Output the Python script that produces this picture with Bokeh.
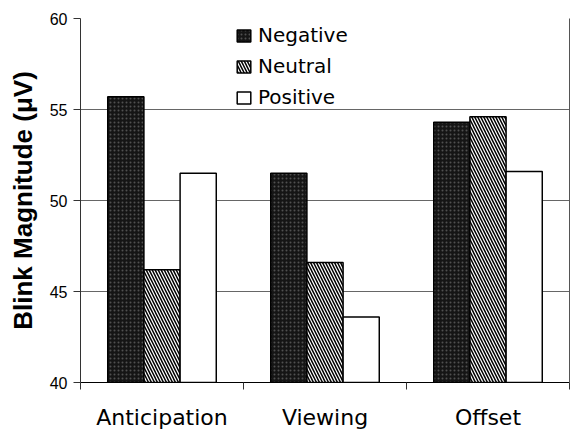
from bokeh.plotting import figure
from bokeh.models import (Range1d, FixedTicker, LinearAxis, Legend, LegendItem,
                          ColumnDataSource)
from bokeh.embed import file_html
from bokeh.resources import INLINE

categories = ["Anticipation", "Viewing", "Offset"]
series = ["Negative", "Neutral", "Positive"]
negative = [55.7, 51.5, 54.3]
neutral = [46.2, 46.6, 54.6]
positive = [51.5, 43.6, 51.6]
y_ticks = [40, 45, 50, 55, 60]

values = {"Negative": negative, "Neutral": neutral, "Positive": positive}

p = figure(width=572, height=432, output_backend="svg", toolbar_location=None,
           x_range=Range1d(0, 3), y_range=Range1d(40, 60),
           min_border_left=80, min_border_right=3, min_border_top=18,
           min_border_bottom=48)
p.outline_line_color = None
p.background_fill_color = "white"
p.border_fill_color = "white"

bar_w = 0.222
offsets = [-bar_w, 0.0, bar_w]
styles = {
    "Negative": dict(fill_color="#151515", hatch_pattern="dot", hatch_color="#8c8c8c",
                     hatch_scale=4, hatch_weight=1, hatch_alpha=0.5),
    "Neutral": dict(fill_color="white", hatch_pattern="left_diagonal_line",
                    hatch_color="black", hatch_scale=6, hatch_weight=1.5),
    "Positive": dict(fill_color="white"),
}

items = []
for s, off in zip(series, offsets):
    src = ColumnDataSource(dict(
        x=[i + 0.5 + off for i in range(len(categories))],
        top=values[s],
        cat=categories,
    ))
    r = p.vbar(x="x", top="top", bottom=40, width=bar_w, source=src,
               line_color="black", line_width=1.5, **styles[s])
    items.append(LegendItem(label=s, renderers=[r]))

# y axis
yax = p.yaxis[0]
yax.ticker = FixedTicker(ticks=y_ticks, minor_ticks=[])
yax.axis_label = "Blink Magnitude (\u03bcV)"
yax.axis_label_text_font = "Liberation Sans"
yax.axis_label_text_font_style = "bold"
yax.axis_label_text_font_size = "26px"
yax.axis_label_text_color = "black"
yax.axis_label_standoff = 9
yax.major_label_text_font = "Liberation Sans"
yax.major_label_text_font_size = "16px"
yax.major_label_text_color = "black"
yax.major_label_standoff = 6
yax.major_tick_out = 7
yax.major_tick_in = 0
yax.minor_tick_out = 0
yax.minor_tick_in = 0
yax.axis_line_color = "#333333"
yax.major_tick_line_color = "#333333"

# x axis: labels at category centres, ticks at boundaries
xax = p.xaxis[0]
xax.ticker = FixedTicker(ticks=[0.5, 1.5, 2.5], minor_ticks=[0, 1, 2, 3])
xax.major_label_overrides = {0.5: categories[0], 1.5: categories[1], 2.5: categories[2]}
xax.major_label_text_font = "DejaVu Sans"
xax.major_label_text_font_size = "22px"
xax.major_label_text_color = "black"
xax.major_label_standoff = 15
xax.major_tick_out = 0
xax.major_tick_in = 0
xax.minor_tick_out = 7
xax.minor_tick_in = 0
xax.axis_line_color = "black"
xax.minor_tick_line_color = "#333333"

# right frame line
rax = LinearAxis(ticker=FixedTicker(ticks=[], minor_ticks=[]),
                 major_label_text_font_size="0px", major_tick_out=0,
                 major_tick_in=0, minor_tick_out=0, minor_tick_in=0,
                 axis_line_color="#555555")
p.add_layout(rax, "right")

p.xgrid.grid_line_color = None
p.ygrid.ticker = FixedTicker(ticks=y_ticks)
p.ygrid.grid_line_color = "#666666"
p.ygrid.grid_line_width = 1

legend = Legend(items=items, location=(155, 273), orientation="vertical",
                glyph_width=17, glyph_height=15, label_standoff=6,
                label_width=99, padding=16, spacing=7, margin=0,
                border_line_color=None, background_fill_color="white",
                background_fill_alpha=1.0,
                label_text_font="DejaVu Sans", label_text_font_size="20px",
                label_text_color="black")
p.add_layout(legend, "center")

open("out.html", "w").write(file_html(p, INLINE))
